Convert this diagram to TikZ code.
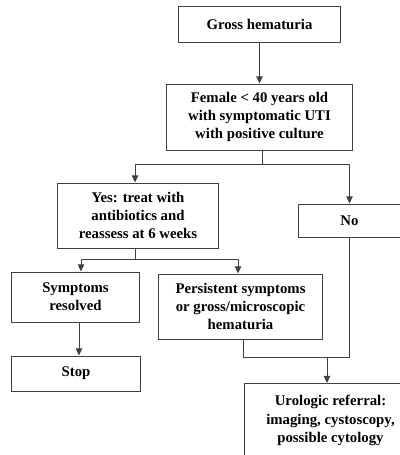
\documentclass[tikz,border=0pt]{standalone}
\usepackage{fontspec}
\setmainfont{Liberation Serif}
\usepackage{tikz}
\usetikzlibrary{positioning, arrows.meta, calc}

\begin{document}
\begin{tikzpicture}[
  x=0.025cm, y=-0.025cm,
  font=\fontsize{10.5}{13}\selectfont\bfseries,
  B/.style={draw=black!75, rectangle, line width=0.7pt,
            align=center, inner sep=2pt},
  arr/.style={-{Triangle[width=4.5pt,length=5pt]}, line width=0.7pt, black!75},
  ln/.style={line width=0.7pt, black!75},
]
\clip (0,0) rectangle (400,455);

%% ---- Top ----
\node[B, minimum width=4.025cm, minimum height=0.9cm]  (gross)  at (259.5, 24)   {Gross hematuria};
\node[B, minimum width=4.625cm, minimum height=1.65cm] (female) at (259.5,117)   {Female < 40 years old\\with symptomatic UTI\\with positive culture};

\draw[arr] (gross) -- (female);

%% ---- Yes / No row ----
\node[B, minimum width=4.0cm,  minimum height=1.625cm] (yes) at (138,215.5) {Yes: treat with\\antibiotics and\\reassess at 6 weeks};
\node[B, minimum width=2.525cm, minimum height=0.825cm] (no) at (349.5,220.5) {No};

\coordinate (split1) at (262,164);
\draw[ln] (female.south -| split1) -- (split1);
\draw[arr] (split1) -| (yes.north -| 135,0);
\draw[arr] (split1) -| (no.north);

%% ---- Outcome row ----
\node[B, minimum width=3.175cm, minimum height=1.25cm]  (resolved) at (75.5,297)  {Symptoms\\resolved};
\node[B, minimum width=4.075cm, minimum height=1.625cm] (persist)  at (240.5,306.5) {Persistent symptoms\\or gross/microscopic\\hematuria};
\node[B, minimum width=3.2cm,   minimum height=0.875cm] (stop)     at (76,373.5)  {Stop};

\coordinate (split2) at (135,259);
\draw[ln] (yes.south -| split2) -- (split2);
\draw[arr] (split2) -| (resolved.north -| 81,0);
\draw[arr] (split2) -| (persist.north -| 238,0);
\draw[arr] (resolved.south -| 79,0) -- (stop.north -| 79,0);

%% ---- Referral ----
\node[B, minimum width=4.3cm, minimum height=1.85cm, anchor=north west] (uro) at (244,383)
  {Urologic referral:\\imaging, cystoscopy,\\possible cytology};

\coordinate (merge) at (327,357);
\draw[ln] (persist.south -| 243,0) |- (no.south |- merge) -- (no.south);
\draw[arr] (merge) -- (uro.north -| merge);

\end{tikzpicture}
\end{document}
